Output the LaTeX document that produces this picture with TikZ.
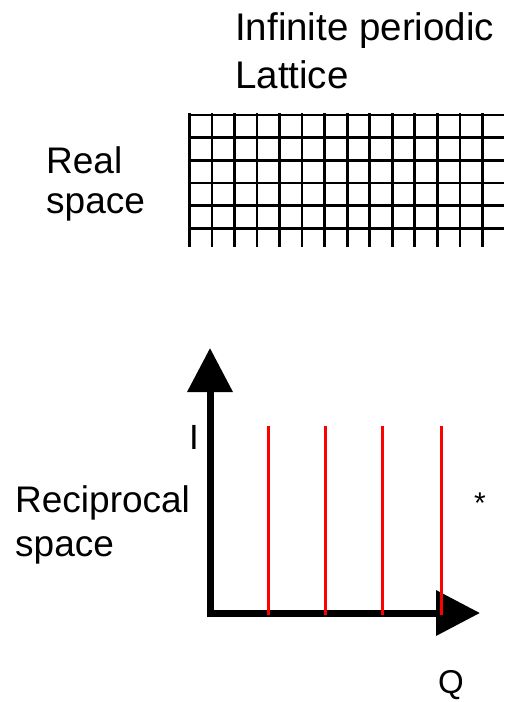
\documentclass[tikz,border=0pt]{standalone}
\usepackage{fontspec}
\setmainfont{Liberation Sans}
\usetikzlibrary{arrows.meta, positioning}

\begin{document}
\begin{tikzpicture}[
  x=1pt, y=-1pt,
  lbl/.style={anchor=base west, inner sep=0pt, font=\fontsize{37}{44}\selectfont},
  gridline/.style={line width=2.7pt},
  axis/.style={line width=7pt, -{Triangle[length=44pt, width=44pt]}},
  peak/.style={line width=3pt, red},
]
\useasboundingbox (0,0) rectangle (504,702);

% labels
\node[lbl, font=\fontsize{38.5}{46}\selectfont] (inf) at (235,40) {Infinite periodic};
\node[lbl, font=\fontsize{38.5}{46}\selectfont] (lat) at (235,88) {Lattice};
\node[lbl] (real) at (46,173) {Real};
\node[lbl] (rspace) at (46,213) {space};
\node[lbl] (recip) at (15,512) {Reciprocal};
\node[lbl] (kspace) at (15,556) {space};

% lattice
\foreach \i in {0,...,13}
  \draw[gridline] (189.3+22.55*\i,113) -- (189.3+22.55*\i,247);
\foreach \j in {0,...,5}
  \draw[gridline] (189,115+22.65*\j) -- (504,115+22.65*\j);

% axes
\coordinate (O) at (210,613);
\coordinate (Ob) at (210,617);
\coordinate (Ol) at (206.5,613);
\coordinate (ytip) at (210,348);
\coordinate (xtip) at (480,613);
\draw[axis] (Ob) -- (ytip);
\draw[axis] (Ol) -- (xtip);

\node[lbl, font=\fontsize{35}{42}\selectfont] (I) at (189,449) {I};
\node[font=\fontsize{30}{36}\selectfont, inner sep=0pt] (star) at (480,503) {*};
\node[lbl, font=\fontsize{33}{40}\selectfont] (Q) at (438,693) {Q};

% Bragg peaks
\foreach \x in {268,325,382,441}
  \draw[peak] (\x,426) -- (\x,615);

\end{tikzpicture}
\end{document}
